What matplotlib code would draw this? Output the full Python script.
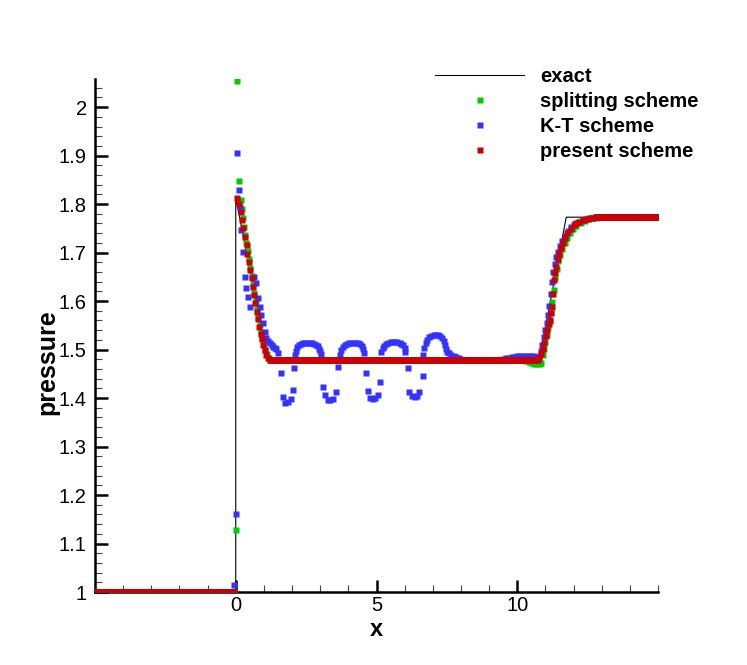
import numpy as np
import matplotlib.pyplot as plt
from matplotlib.ticker import MultipleLocator, FuncFormatter

plt.rcParams["font.family"] = ["Liberation Sans", "DejaVu Sans"]

# ---------- exact solution (vertices of the piecewise profile) ----------
exact_x = [-5.0, 0.0, 0.0, 1.13, 10.78, 11.74, 15.0]
exact_p = [1.0, 1.0, 1.814, 1.478, 1.478, 1.773, 1.773]

DX = 0.05  # mesh spacing in the constant states

# ---------- splitting scheme ----------
split_flat = [(-5.0, -0.05, 1.0), (1.20, 10.25, 1.4792), (12.90, 15.0, 1.773)]
split_x = [0.02, 0.06, 0.10, 0.17, 0.21, 0.25, 0.29, 0.33, 0.38, 0.42, 0.47,
           0.52, 0.57, 0.61, 0.66, 0.71, 0.75, 0.80, 0.85, 0.90, 0.95, 1.00,
           1.05, 1.11, 1.17,
           10.30, 10.40, 10.50, 10.60, 10.70, 10.80,
           10.85, 10.90, 10.95, 11.00, 11.05, 11.10, 11.15, 11.20, 11.25,
           11.30, 11.35, 11.40, 11.46, 11.53, 11.60, 11.68, 11.77, 11.87,
           11.98, 12.10, 12.25, 12.40, 12.55, 12.70, 12.85]
split_p = [1.128, 2.054, 1.847, 1.808, 1.790, 1.771, 1.753, 1.737, 1.720,
           1.703, 1.686, 1.669, 1.652, 1.634, 1.617, 1.600, 1.583, 1.567,
           1.551, 1.537, 1.524, 1.511, 1.500, 1.490, 1.483,
           1.476, 1.474, 1.472, 1.471, 1.470, 1.470,
           1.473, 1.488, 1.502, 1.516, 1.530, 1.544, 1.558, 1.576, 1.598,
           1.623, 1.648, 1.667, 1.682, 1.696, 1.708, 1.719, 1.730, 1.740,
           1.748, 1.755, 1.761, 1.766, 1.769, 1.771, 1.772]

# ---------- K-T scheme ----------
kt_flat = [(-5.0, -0.10, 1.0), (7.95, 9.45, 1.479), (12.85, 15.0, 1.773)]
kt_x = [-0.06, 0.02, 0.06, 0.10,
        0.14, 0.20, 0.26, 0.32, 0.38, 0.44, 0.50,
        0.65, 0.73, 0.79, 0.85, 0.91, 0.97, 1.03, 1.09, 1.15, 1.21, 1.27,
        1.32, 1.38, 1.44, 1.50,
        1.60, 1.68, 1.74, 1.85, 1.97, 2.03, 2.07,
        2.11, 2.14, 2.18, 2.24, 2.31, 2.39, 2.47, 2.55, 2.63, 2.71, 2.79,
        2.86, 2.92, 2.97, 3.01, 3.04,
        3.10, 3.16, 3.27, 3.36, 3.45, 3.57, 3.63,
        3.69, 3.74, 3.80, 3.87, 3.95, 4.03, 4.11, 4.19, 4.27, 4.35, 4.42,
        4.48, 4.53, 4.57,
        4.63, 4.69, 4.78, 4.87, 4.96, 5.05, 5.11,
        5.17, 5.22, 5.28, 5.34, 5.42, 5.50, 5.58, 5.66, 5.74, 5.82, 5.88,
        5.94, 6.00, 6.03,
        6.11, 6.17, 6.26, 6.35, 6.44, 6.52, 6.64,
        6.66, 6.70, 6.75, 6.81, 6.88, 6.95, 7.03, 7.11, 7.19, 7.27, 7.34,
        7.40, 7.44, 7.47, 7.52, 7.59, 7.66, 7.74, 7.83, 7.92,
        9.50, 9.60, 9.70, 9.80, 9.90, 10.00, 10.10, 10.20, 10.30, 10.40,
        10.50, 10.60, 10.70,
        10.78, 10.83, 10.88, 10.94, 10.99, 11.04, 11.09, 11.14, 11.19,
        11.24, 11.28, 11.33, 11.39, 11.45, 11.52, 11.60, 11.70, 11.80,
        11.92, 12.05, 12.20, 12.35, 12.50, 12.65, 12.80]
kt_p = [1.014, 1.160, 1.906, 1.829,
        1.794, 1.746, 1.702, 1.650, 1.626, 1.609, 1.588,
        1.650, 1.637, 1.606, 1.588, 1.571, 1.554, 1.537, 1.523, 1.517,
        1.513, 1.509, 1.506, 1.504, 1.502, 1.492,
        1.451, 1.403, 1.389, 1.392, 1.399, 1.416, 1.461,
        1.489, 1.498, 1.505, 1.509, 1.512, 1.513, 1.514, 1.514, 1.514,
        1.513, 1.512, 1.510, 1.507, 1.502, 1.497, 1.491,
        1.423, 1.406, 1.396, 1.395, 1.399, 1.413, 1.465,
        1.489, 1.499, 1.505, 1.509, 1.512, 1.513, 1.514, 1.514, 1.514,
        1.513, 1.511, 1.507, 1.501, 1.493,
        1.451, 1.414, 1.401, 1.398, 1.401, 1.406, 1.434,
        1.495, 1.503, 1.508, 1.511, 1.514, 1.516, 1.516, 1.516, 1.515,
        1.514, 1.512, 1.509, 1.504, 1.496,
        1.461, 1.413, 1.404, 1.402, 1.405, 1.413, 1.445,
        1.489, 1.503, 1.513, 1.520, 1.525, 1.528, 1.530, 1.531, 1.530,
        1.528, 1.524, 1.518, 1.510, 1.502, 1.496, 1.492, 1.489, 1.486,
        1.484, 1.482,
        1.481, 1.482, 1.483, 1.484, 1.485, 1.486, 1.486, 1.487, 1.487,
        1.487, 1.487, 1.486, 1.485,
        1.485, 1.497, 1.510, 1.525, 1.540, 1.555, 1.572, 1.590, 1.615,
        1.640, 1.660, 1.676, 1.690, 1.702, 1.713, 1.724, 1.735, 1.744,
        1.752, 1.759, 1.764, 1.768, 1.770, 1.772, 1.773]

# ---------- present scheme ----------
present_flat = [(-5.0, -0.05, 1.0), (1.20, 10.75, 1.478), (12.85, 15.0, 1.773)]
present_x = [0.06, 0.13, 0.17, 0.22, 0.27, 0.32, 0.39, 0.41, 0.46, 0.51, 0.56,
             0.60, 0.65, 0.70, 0.74, 0.79, 0.84, 0.89, 0.93, 0.98, 1.03, 1.09,
             1.15,
             10.78, 10.84, 10.90, 10.96, 11.01, 11.07, 11.12, 11.16, 11.20,
             11.23, 11.27, 11.31, 11.34, 11.37, 11.43, 11.49, 11.55, 11.61,
             11.69, 11.78, 11.90, 12.02, 12.10, 12.20, 12.32, 12.45, 12.55,
             12.67, 12.79]
present_p = [1.812, 1.801, 1.784, 1.767, 1.750, 1.733, 1.716, 1.698, 1.681,
             1.664, 1.647, 1.629, 1.612, 1.595, 1.578, 1.564, 1.547, 1.533,
             1.521, 1.509, 1.499, 1.489, 1.482,
             1.482, 1.490, 1.502, 1.513, 1.527, 1.540, 1.552, 1.561, 1.575,
             1.587, 1.615, 1.643, 1.658, 1.671, 1.686, 1.698, 1.709, 1.719,
             1.730, 1.740, 1.749, 1.757, 1.760, 1.764, 1.767, 1.769, 1.771,
             1.772, 1.773]


def gather(flat, xs, ps):
    """Join the constant states and the listed points of one scheme."""
    xx, pp = [np.asarray(xs)], [np.asarray(ps)]
    for x0, x1, val in flat:
        grid = np.arange(x0, x1 + 1e-9, DX)
        xx.append(grid)
        pp.append(np.full(grid.shape, val))
    return np.concatenate(xx), np.concatenate(pp)


fig = plt.figure(figsize=(7.47, 6.65), dpi=100)
ax = fig.add_axes([95 / 747, 73 / 665, 563 / 747, 513 / 665])

ax.plot(exact_x, exact_p, color="k", lw=0.8, label="exact", zorder=2)

ms = 4.0
for (flat, xs, ps), col, lab in [
    ((split_flat, split_x, split_p), "#00cc00", "splitting scheme"),
    ((kt_flat, kt_x, kt_p), "#3333ff", "K-T scheme"),
    ((present_flat, present_x, present_p), "#cc0000", "present scheme"),
]:
    x, p = gather(flat, xs, ps)
    ax.plot(x, p, ls="none", marker="s", ms=ms, mec="none", color=col,
            label=lab, zorder=3)

# ---------- axes ----------
ax.set_xlim(-5, 15)
ax.set_ylim(1, 2.058)
ax.set_xticks([0, 5, 10])
ax.xaxis.set_minor_locator(MultipleLocator(1))
ax.yaxis.set_major_locator(MultipleLocator(0.1))
ax.yaxis.set_minor_locator(MultipleLocator(0.02))
ax.yaxis.set_major_formatter(FuncFormatter(lambda v, _: f"{v:.10g}" if v <= 2.0001 else ""))
ax.xaxis.set_major_formatter(FuncFormatter(lambda v, _: f"{v:g}"))

for s in ["top", "right"]:
    ax.spines[s].set_visible(False)
for s in ["left", "bottom"]:
    ax.spines[s].set_linewidth(1.8)

ax.tick_params(which="major", direction="in", length=9, width=1.8,
               labelsize=14.5, pad=6)
ax.tick_params(axis="x", which="major", pad=3)
ax.tick_params(which="minor", direction="in", length=5, width=0.8,
               color="#444444")

ax.set_xlabel("x", fontsize=17, fontweight="bold")
ax.set_ylabel("pressure", fontsize=18, fontweight="bold")
ax.xaxis.set_label_coords(0.5, (592 - 630) / 513)
ax.yaxis.set_label_coords(-0.085, 0.448)
ax.xaxis.label.set_va("center")
ax.yaxis.label.set_va("center")

leg = ax.legend(loc="upper left", bbox_to_anchor=(435 / 747, 1 - 67 / 665),
                bbox_transform=fig.transFigure, frameon=False, numpoints=1,
                handlelength=4.43, handletextpad=0.8, labelspacing=0.3,
                borderpad=0, borderaxespad=0,
                prop={"weight": "bold", "size": 14.5})
for h in leg.legend_handles[1:]:
    h.set_markersize(4)

fig.savefig("out.png", dpi=100)
